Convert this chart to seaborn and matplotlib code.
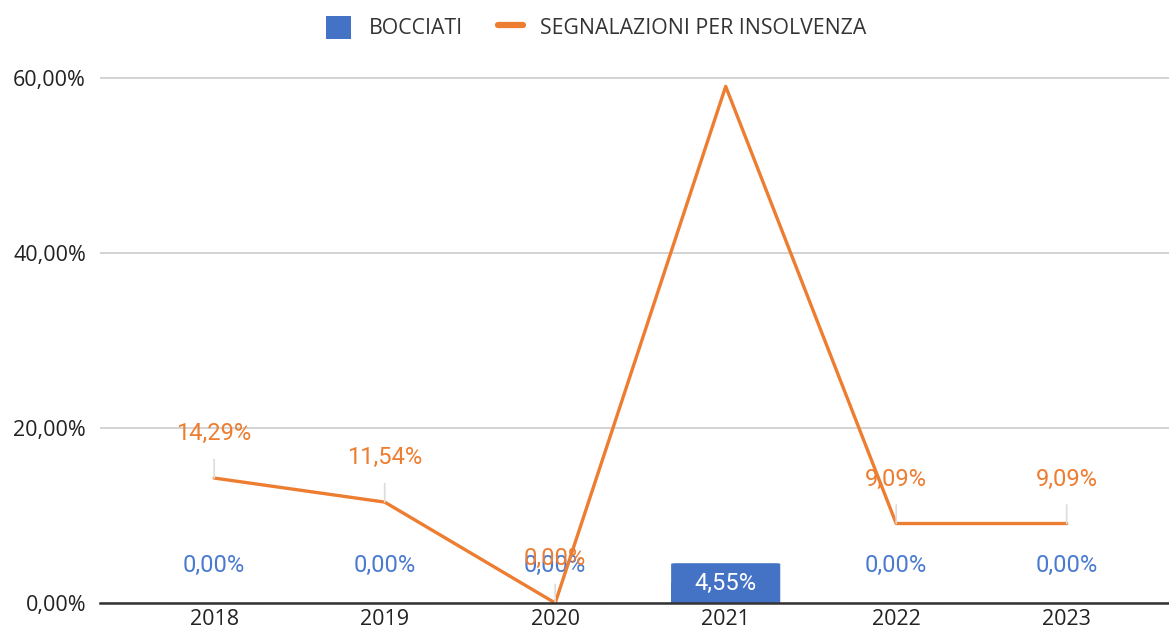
import matplotlib
matplotlib.use("Agg")
import matplotlib.pyplot as plt
import seaborn as sns
import pandas as pd
from matplotlib.patches import FancyBboxPatch
from matplotlib.lines import Line2D
from matplotlib.patches import Patch

years = ["2018", "2019", "2020", "2021", "2022", "2023"]
bocciati = [0.0, 0.0, 0.0, 4.55, 0.0, 0.0]
segnalazioni = [14.29, 11.54, 0.0, 59.09, 9.09, 9.09]
yticks = [0, 20, 40, 60]
show_line_label = [True, True, True, False, True, True]

BLUE = "#4472C4"
ORANGE = "#ED7D31"

sns.set_theme(style="white")
plt.rcParams['font.family'] = ['Open Sans', 'DejaVu Sans']

df = pd.DataFrame({"anno": years, "BOCCIATI": bocciati, "SEGN": segnalazioni})

fig = plt.figure(figsize=(11.69, 6.41), dpi=100)
ax = fig.add_axes([0.0855, 0.0593, 0.9145, 0.832])

sns.barplot(data=df, x="anno", y="BOCCIATI", color=BLUE, width=0.64, ax=ax,
            saturation=1, zorder=2)
# rounded top corners
for p in list(ax.patches):
    h = p.get_height()
    if h > 0:
        x0, w = p.get_x(), p.get_width()
        p.set_visible(False)
        fb = FancyBboxPatch((x0, 0), w, h,
                            boxstyle="round,pad=0,rounding_size=0.025",
                            mutation_aspect=3.5,
                            fc=BLUE, ec="none", zorder=2)
        ax.add_patch(fb)
        ax.add_patch(plt.Rectangle((x0, 0), w, h * 0.5, fc=BLUE, ec="none", zorder=2))

sns.lineplot(x=list(range(len(years))), y=segnalazioni, color=ORANGE, lw=2.4,
             ax=ax, zorder=4)

def fmt(v):
    return f"{v:.2f}".replace(".", ",") + "%"

LBL = 17
for i, v in enumerate(bocciati):
    if v > 0:
        ax.text(i, v / 2, fmt(v), ha="center", va="center", color="white",
                fontsize=LBL, family=["Roboto", "DejaVu Sans"], zorder=5)
    else:
        ax.annotate(fmt(v), (i, v), xytext=(0, 27), textcoords="offset points",
                    ha="center", va="center", color="#4A7BD0", fontsize=LBL,
                    family=["Roboto", "DejaVu Sans"], zorder=3)

for i, v in enumerate(segnalazioni):
    if not show_line_label[i]:
        continue
    ax.annotate(fmt(v), (i, v), xytext=(0, 32), textcoords="offset points",
                ha="center", va="center", color=ORANGE, fontsize=LBL,
                family=["Roboto", "DejaVu Sans"], zorder=6,
                arrowprops=dict(arrowstyle="-", color="#DCDCDC", lw=1.2,
                                shrinkA=8, shrinkB=0))

ax.set_xlim(-0.67, 5.6)
ax.set_ylim(0, 61)
ax.set_yticks(yticks)
ax.set_yticklabels([fmt(t) for t in yticks], fontsize=15.5, color="#222222")
ax.set_xticks(range(len(years)))
ax.set_xticklabels(years, fontsize=15.5, color="#222222")
ax.set_xlabel("")
ax.set_ylabel("")
ax.grid(axis="y", color="#CCCCCC", lw=1.2, zorder=0)
ax.set_axisbelow(True)
for s in ["top", "right", "left"]:
    ax.spines[s].set_visible(False)
ax.spines["bottom"].set_color("#333333")
ax.spines["bottom"].set_linewidth(1.8)
ax.spines["bottom"].set_zorder(7)
ax.tick_params(axis="x", length=0, pad=4)
ax.tick_params(axis="y", length=0, pad=10)

handles = [Patch(fc=BLUE, ec="none", label="BOCCIATI"),
           Line2D([0], [0], color=ORANGE, lw=4.5, label="SEGNALAZIONI PER INSOLVENZA")]
fig.legend(handles=handles, loc="center", bbox_to_anchor=(0.51, 0.957), ncol=2,
           frameon=False, fontsize=15.3, handlelength=1.2, handleheight=1.3,
           columnspacing=1.65, handletextpad=0.8, labelcolor="#333333")

fig.savefig("out.png", dpi=100)
